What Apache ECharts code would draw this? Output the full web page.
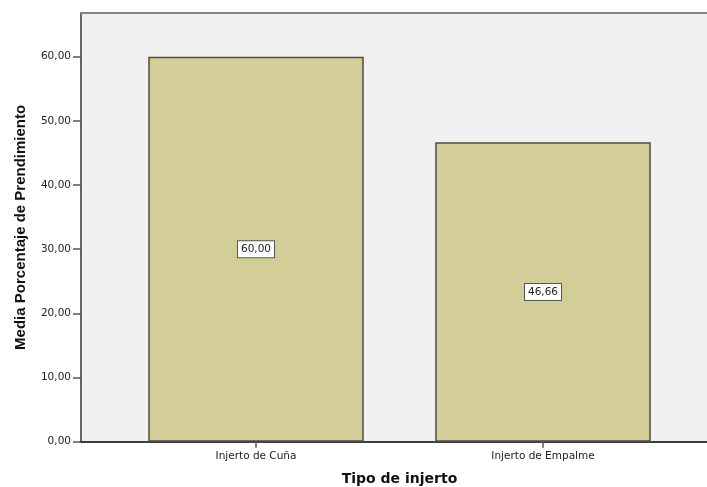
<!DOCTYPE html>
<html>
<head>
<meta charset="utf-8">
<script src="https://cdn.jsdelivr.net/npm/echarts@6/dist/echarts.min.js"></script>
<style>
  html, body { margin: 0; padding: 0; background: #ffffff; }
  #chart { width: 707px; height: 487px; }
</style>
</head>
<body>
<div id="chart"></div>
<script>
// Grafting types and mean rooting percentage
const categories = ['Injerto de Cuña', 'Injerto de Empalme'];
const meanValues = [60.00, 46.66];
const yTicks = [0, 10, 20, 30, 40, 50, 60];
const yMax = 66.8;

const fmt = v => Number(v).toFixed(2).replace('.', ',');

const chart = echarts.init(document.getElementById('chart'), null, { renderer: 'canvas' });

const frameTop = 13, frameBottom = 45.3;

chart.setOption({
  backgroundColor: '#ffffff',
  animation: false,
  grid: [
    // plot frame with background and value axis
    { left: 81, right: 0, top: frameTop, bottom: frameBottom, show: true,
      backgroundColor: '#f0f0f0', borderWidth: 0, containLabel: false, outerBoundsMode: 'none' },
    // inner band area holding the bars
    { left: 112.5, right: 20.5, top: frameTop, bottom: frameBottom, containLabel: false, outerBoundsMode: 'none' }
  ],
  xAxis: [
    { gridIndex: 0, type: 'value', min: 0, max: 1, position: 'bottom',
      axisLine: { show: true, lineStyle: { color: '#000000', width: 1.5 } },
      axisTick: { show: false }, axisLabel: { show: false }, splitLine: { show: false } },
    { gridIndex: 0, type: 'value', min: 0, max: 1, position: 'top',
      axisLine: { show: true, lineStyle: { color: '#858585', width: 2 } },
      axisTick: { show: false }, axisLabel: { show: false }, splitLine: { show: false } },
    { gridIndex: 1, type: 'category', data: categories, position: 'bottom',
      axisLine: { show: false },
      axisTick: { show: true, alignWithLabel: true, length: 6, lineStyle: { color: '#555555', width: 1.5 } },
      axisLabel: { margin: 9, color: '#222222', fontFamily: 'DejaVu Sans', fontSize: 10.5 },
      name: 'Tipo de injerto', nameLocation: 'middle', nameGap: 31,
      nameTextStyle: { fontFamily: 'DejaVu Sans', fontWeight: 'bold', fontSize: 14, color: '#111111' } }
  ],
  yAxis: [
    { gridIndex: 0, type: 'value', min: 0, max: yMax,
      axisLine: { show: true, lineStyle: { color: '#666666', width: 2 } },
      axisTick: { show: true, length: 8, customValues: yTicks, lineStyle: { color: '#555555', width: 1.5 } },
      axisLabel: { margin: 10, customValues: yTicks, formatter: fmt,
        color: '#222222', fontFamily: 'DejaVu Sans', fontSize: 10.5 },
      splitLine: { show: false },
      name: 'Media Porcentaje de Prendimiento', nameLocation: 'middle', nameRotate: 90, nameGap: 53,
      nameTextStyle: { fontFamily: '"Liberation Sans", Arial, sans-serif', fontWeight: 'bold', fontSize: 15, color: '#111111' } },
    { gridIndex: 1, type: 'value', min: 0, max: yMax, show: false }
  ],
  series: [
    {
      type: 'bar',
      xAxisIndex: 2, yAxisIndex: 1,
      data: meanValues,
      barWidth: 215.5,
      itemStyle: { color: '#d3ce98', borderColor: '#4e4e44', borderWidth: 1.5 },
      label: {
        show: true, position: 'inside', formatter: p => fmt(p.value),
        fontFamily: 'DejaVu Sans', fontSize: 10.5, color: '#222222',
        backgroundColor: '#ffffff', borderColor: '#555555', borderWidth: 1,
        padding: [3, 3, 2, 3]
      }
    }
  ]
});
</script>
</body>
</html>
